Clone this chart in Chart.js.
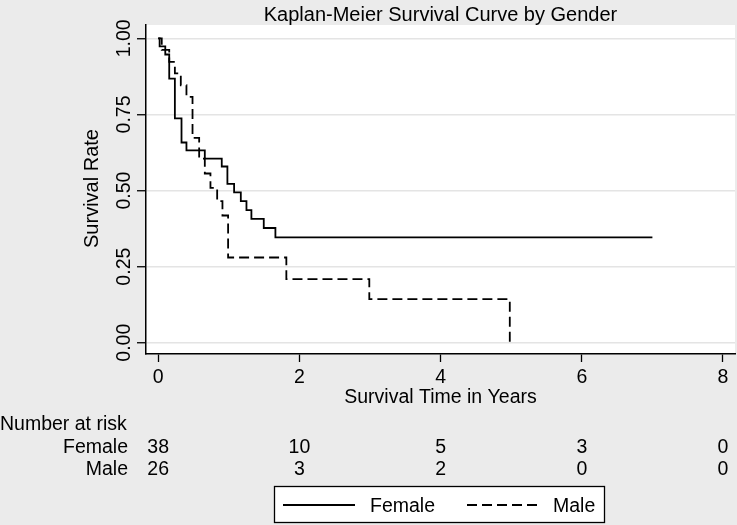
<!DOCTYPE html>
<html>
<head>
<meta charset="utf-8">
<script src="https://cdn.jsdelivr.net/npm/chart.js@4/dist/chart.umd.min.js"></script>
<style>
    html, body { margin: 0; padding: 0; background: #ebebeb; }
    #km { display: block; }
</style>
</head>
<body>
<canvas id="km" width="737" height="525"></canvas>
<script>
// Datos de las curvas (tiempo en años, supervivencia)
const femaleTimes = [0, 0.02, 0.10, 0.156, 0.236, 0.33, 0.40, 0.66, 0.90, 0.98, 1.075, 1.17, 1.25, 1.32, 1.495, 1.66, 7.0];
const femaleSurv = [1, 0.974, 0.947, 0.868, 0.737, 0.658, 0.632, 0.605, 0.579, 0.522, 0.494, 0.465, 0.436, 0.407, 0.377, 0.346, 0.346];
const maleTimes = [0, 0.05, 0.156, 0.236, 0.32, 0.40, 0.486, 0.58, 0.66, 0.74, 0.835, 0.91, 0.99, 1.815, 2.99, 4.98];
const maleSurv = [1, 0.962, 0.923, 0.885, 0.846, 0.808, 0.673, 0.605, 0.556, 0.509, 0.465, 0.418, 0.28, 0.209, 0.143, 0];

// Ejes
const xTicks = [0, 2, 4, 6, 8];
const yTicks = [0, 0.25, 0.5, 0.75, 1];

// Tabla de número en riesgo
const riskTimes = [0, 2, 4, 6, 8];
const riskGroups = ['Female', 'Male'];
const riskFemale = [38, 10, 5, 3, 0];
const riskMale = [26, 3, 2, 0, 0];

const FONT = '"Liberation Sans", Arial, sans-serif';

function toPoints(times, surv) {
    return times.map((t, i) => ({ x: t, y: surv[i] }));
}

// Fondo gris y área del gráfico en blanco
const background = {
    id: 'background',
    beforeDraw(chart) {
        const { ctx, chartArea: a } = chart;
        ctx.save();
        ctx.fillStyle = '#ebebeb';
        ctx.fillRect(0, 0, chart.width, chart.height);
        ctx.fillStyle = '#ffffff';
        ctx.fillRect(a.left, a.top, a.right - a.left, a.bottom - a.top);
        ctx.restore();
    }
};

// Títulos, etiquetas del eje y, tabla de riesgo y leyenda
const texts = {
    id: 'texts',
    afterDraw(chart) {
        const { ctx, chartArea: a } = chart;
        const xs = chart.scales.x;
        const ys = chart.scales.y;
        const cx = (a.left + a.right) / 2;
        ctx.save();
        ctx.fillStyle = '#000';
        ctx.textBaseline = 'alphabetic';

        // título
        ctx.font = '20px ' + FONT;
        ctx.textAlign = 'center';
        ctx.fillText('Kaplan-Meier Survival Curve by Gender', cx, 21);

        // etiquetas del eje y (giradas)
        ctx.font = '19.5px ' + FONT;
        ys.ticks.forEach(t => {
            const y = ys.getPixelForValue(t.value);
            ctx.save();
            ctx.translate(129.5, y);
            ctx.rotate(-Math.PI / 2);
            ctx.textAlign = 'center';
            ctx.fillText(t.value.toFixed(2), 0, 0);
            ctx.restore();
        });

        // título del eje y
        ctx.save();
        ctx.font = '20px ' + FONT;
        ctx.translate(98, (a.top + a.bottom) / 2 - 1);
        ctx.rotate(-Math.PI / 2);
        ctx.textAlign = 'center';
        ctx.fillText('Survival Rate', 0, 0);
        ctx.restore();

        // título del eje x
        ctx.font = '19.5px ' + FONT;
        ctx.textAlign = 'center';
        ctx.fillText('Survival Time in Years', cx, 403);

        // número en riesgo
        ctx.textAlign = 'left';
        ctx.fillText('Number at risk', 0, 430);
        const rows = [riskFemale, riskMale];
        rows.forEach((row, r) => {
            const yy = 453 + r * 22;
            ctx.textAlign = 'right';
            ctx.fillText(riskGroups[r], 128, yy);
            ctx.textAlign = 'center';
            row.forEach((n, i) => {
                ctx.fillText(String(n), xs.getPixelForValue(riskTimes[i]), yy);
            });
        });

        // leyenda
        ctx.fillStyle = '#fff';
        ctx.fillRect(274.5, 486.5, 330, 36);
        ctx.strokeStyle = '#000';
        ctx.lineWidth = 1.3;
        ctx.strokeRect(274.5, 486.5, 330, 36);
        chart.data.datasets.forEach((ds, i) => {
            const x0 = i === 0 ? 283 : 467;
            ctx.beginPath();
            ctx.lineWidth = ds.borderWidth;
            ctx.setLineDash(ds.borderDash || []);
            ctx.moveTo(x0, 505);
            ctx.lineTo(x0 + 72, 505);
            ctx.stroke();
            ctx.setLineDash([]);
            ctx.fillStyle = '#000';
            ctx.textAlign = 'left';
            ctx.fillText(ds.label, i === 0 ? 370 : 553, 512);
        });
        ctx.restore();
    }
};

new Chart(document.getElementById('km'), {
    type: 'scatter',
    data: {
        datasets: [{
            label: 'Female',
            data: toPoints(femaleTimes, femaleSurv),
            showLine: true,
            stepped: true,
            borderColor: '#000',
            borderWidth: 1.8,
            pointRadius: 0
        }, {
            label: 'Male',
            data: toPoints(maleTimes, maleSurv),
            showLine: true,
            stepped: true,
            borderColor: '#000',
            borderWidth: 1.8,
            borderDash: [10, 5],
            pointRadius: 0
        }]
    },
    options: {
        responsive: false,
        animation: false,
        devicePixelRatio: 1,
        layout: { padding: { top: 25, right: 2, left: 0, bottom: 0 } },
        plugins: {
            legend: { display: false },
            title: { display: false },
            tooltip: { enabled: false }
        },
        scales: {
            x: {
                type: 'linear',
                min: -0.173,
                max: 8.17,
                afterBuildTicks: s => { s.ticks = xTicks.map(v => ({ value: v })); },
                afterFit: s => { s.height = 171; },
                grid: { drawOnChartArea: false, tickLength: 8, tickColor: '#000', tickWidth: 1.3 },
                border: { color: '#000', width: 1.5 },
                ticks: { color: '#000', padding: 4, font: { size: 19.5, family: FONT } }
            },
            y: {
                type: 'linear',
                min: -0.037,
                max: 1.044,
                afterBuildTicks: s => { s.ticks = yTicks.map(v => ({ value: v })); },
                afterFit: s => { s.width = 146; },
                grid: { color: '#e4e4e4', lineWidth: 1.5, tickLength: 9, tickColor: '#000', tickWidth: 1.3 },
                border: { color: '#000', width: 1.5 },
                ticks: { display: false }
            }
        }
    },
    plugins: [background, texts]
});
</script>
</body>
</html>
